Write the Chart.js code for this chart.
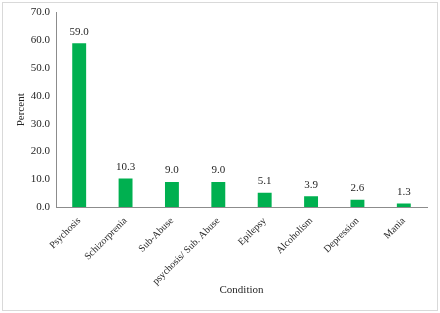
<!DOCTYPE html>
<html>
<head>
<meta charset="utf-8">
<script src="https://cdn.jsdelivr.net/npm/chart.js@4"></script>
<style>
  html, body { margin: 0; padding: 0; background: #ffffff; }
  #wrap { position: relative; width: 440px; height: 313px; }
</style>
</head>
<body>
<div id="wrap"><canvas id="chart" width="440" height="313"></canvas></div>
<script>
'use strict';

// Chart data
const categories = ['Psychosis', 'Schizorprenia', 'Sub-Abuse', 'psychosis/ Sub. Abuse', 'Epilepsy', 'Alcoholism', 'Depression', 'Mania'];
const percentValues = [59.0, 10.3, 9.0, 9.0, 5.1, 3.9, 2.6, 1.3];
const yTicks = [0, 10, 20, 30, 40, 50, 60, 70];

const FONT = "'Liberation Serif', 'Times New Roman', serif";
const TEXT_COLOR = '#262626';

// Light gray frame round the whole chart
const framePlugin = {
  id: 'frame',
  beforeDraw(chart) {
    const ctx = chart.ctx;
    ctx.save();
    ctx.fillStyle = '#ffffff';
    ctx.fillRect(0, 0, chart.width, chart.height);
    ctx.strokeStyle = '#d9d9d9';
    ctx.lineWidth = 1;
    ctx.strokeRect(2.5, 2.5, chart.width - 5, chart.height - 5);
    ctx.restore();
  },
};

// Value labels above each bar
const valueLabelPlugin = {
  id: 'valueLabels',
  afterDatasetsDraw(chart) {
    const ctx = chart.ctx;
    const meta = chart.getDatasetMeta(0);
    ctx.save();
    ctx.font = `11px ${FONT}`;
    ctx.fillStyle = TEXT_COLOR;
    ctx.textAlign = 'center';
    ctx.textBaseline = 'bottom';
    meta.data.forEach((bar, i) => {
      ctx.fillText(percentValues[i].toFixed(1), bar.x, bar.y - 6);
    });
    ctx.restore();
  },
};

new Chart(document.getElementById('chart'), {
  type: 'bar',
  data: {
    labels: categories,
    datasets: [
      {
        data: percentValues,
        backgroundColor: '#00b050',
        borderWidth: 0,
        categoryPercentage: 1,
        barPercentage: 0.3,
      },
    ],
  },
  options: {
    responsive: false,
    animation: false,
    layout: { padding: { left: 15, right: 13, top: 7, bottom: 16 } },
    plugins: {
      legend: { display: false },
      tooltip: { enabled: false },
    },
    scales: {
      x: {
        grid: { display: false, drawTicks: false },
        border: { color: '#8c8c8c', width: 1 },
        ticks: {
          autoSkip: false,
          maxRotation: 45,
          minRotation: 45,
          padding: 8,
          color: TEXT_COLOR,
          font: { family: FONT, size: 10 },
        },
        title: {
          display: true,
          text: 'Condition',
          color: TEXT_COLOR,
          font: { family: FONT, size: 11 },
          padding: { top: 4, bottom: 0 },
        },
        afterFit(scale) {
          scale.height = 90;
        },
      },
      y: {
        min: 0,
        max: 70,
        grid: { display: false, drawTicks: false },
        border: { color: '#8c8c8c', width: 1 },
        afterBuildTicks(scale) {
          scale.ticks = yTicks.map((v) => ({ value: v }));
        },
        ticks: {
          padding: 6,
          color: TEXT_COLOR,
          font: { family: FONT, size: 11 },
          callback: (v) => Number(v).toFixed(1),
        },
        title: {
          display: true,
          text: 'Percent',
          color: TEXT_COLOR,
          font: { family: FONT, size: 11 },
          padding: { top: 0, bottom: 4 },
        },
        afterFit(scale) {
          scale.width = 41;
        },
      },
    },
  },
  plugins: [framePlugin, valueLabelPlugin],
});
</script>
</body>
</html>
